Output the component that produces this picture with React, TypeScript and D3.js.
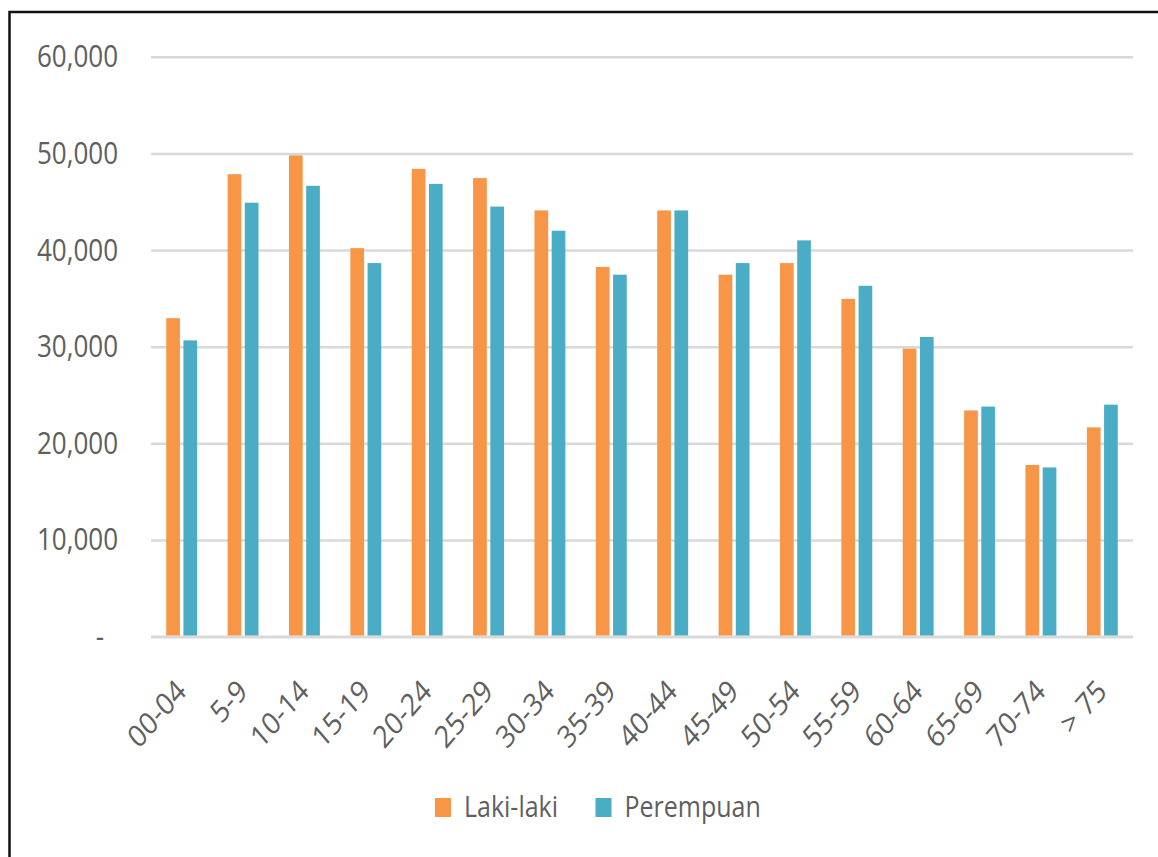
import React from "react";
import * as d3 from "d3";

const categories = ["00-04","5-9","10-14","15-19","20-24","25-29","30-34","35-39","40-44","45-49","50-54","55-59","60-64","65-69","70-74","> 75"];
const lakiLaki = [33000,47900,49850,40250,48450,47500,44150,38300,44150,37500,38700,35000,29850,23450,17800,21700];
const perempuan = [30700,44950,46700,38700,46900,44550,42050,37500,44150,38700,41050,36350,31050,23850,17550,24050];
const seriesNames = ["Laki-laki","Perempuan"];
const seriesColors = ["#F79646","#4BACC6"];
const yTicks = [0,10000,20000,30000,40000,50000,60000];

const W = 1158, H = 857;
const SY = 1.16;
const FONT = "'Open Sans', sans-serif";
const TXT = "#5f5f5f";

export default function App() {
  const left = 151, right = 1133, top = 57.3, bottom = 637;
  const y = d3.scaleLinear().domain([0, 60000]).range([bottom, top]);
  const x0 = d3.scaleBand<string>().domain(categories).range([left, right]).paddingInner(0).paddingOuter(0);
  const x1 = d3.scaleBand<string>().domain(seriesNames).range([0, 30.9]).paddingInner(0.2035).paddingOuter(0);
  const fmt = (v: number) => (v === 0 ? "-" : d3.format(",")(v));
  const series = [lakiLaki, perempuan];
  const groupOffset = (x0.bandwidth() - 30.9) / 2;

  return (
    <svg width={W} height={H} style={{ position: "absolute", left: 0, top: 0, background: "#fff" }}>
      <rect x={0} y={0} width={W} height={H} fill="#fff" />
      <rect x={9.5} y={12} width={1300} height={1000} fill="none" stroke="#111" strokeWidth={2.5} />
      {/* gridlines */}
      {yTicks.map((t) => (
        <line key={"g" + t} x1={left} x2={right} y1={y(t)} y2={y(t)} stroke="#D9D9D9" strokeWidth={t === 0 ? 3 : 2.5} />
      ))}
      {/* y labels */}
      {yTicks.map((t) => (
        <text key={"yl" + t} transform={`translate(${t === 0 ? 104 : 118},${y(t) + 10}) scale(1,${SY})`}
          textAnchor="end" fontFamily={FONT} fontSize={26} fill={TXT}>{fmt(t)}</text>
      ))}
      {/* bars */}
      {categories.map((c, i) => (
        <g key={c} transform={`translate(${(x0(c) as number) + groupOffset},0)`}>
          {series.map((s, j) => (
            <rect key={j} x={x1(seriesNames[j])} y={y(s[i])} width={x1.bandwidth()} height={y(0) - y(s[i]) - 1.5}
              fill={seriesColors[j]} />
          ))}
        </g>
      ))}
      {/* x labels */}
      {categories.map((c) => (
        <text key={"xl" + c}
          transform={`translate(${(x0(c) as number) + x0.bandwidth() / 2 + 6},${693}) scale(1,${SY}) rotate(-45)`}
          textAnchor="end" fontFamily={FONT} fontSize={26.5} fill={TXT}>{c}</text>
      ))}
      {/* legend */}
      {seriesNames.map((n, j) => {
        const lx = j === 0 ? 435 : 595.5;
        return (
          <g key={"lg" + n}>
            <rect x={lx} y={798} width={16} height={19} fill={seriesColors[j]} />
            <text transform={`translate(${lx + 29},${817}) scale(1,${SY})`} fontFamily={FONT} fontSize={25} fill={TXT}>{n}</text>
          </g>
        );
      })}
    </svg>
  );
}
